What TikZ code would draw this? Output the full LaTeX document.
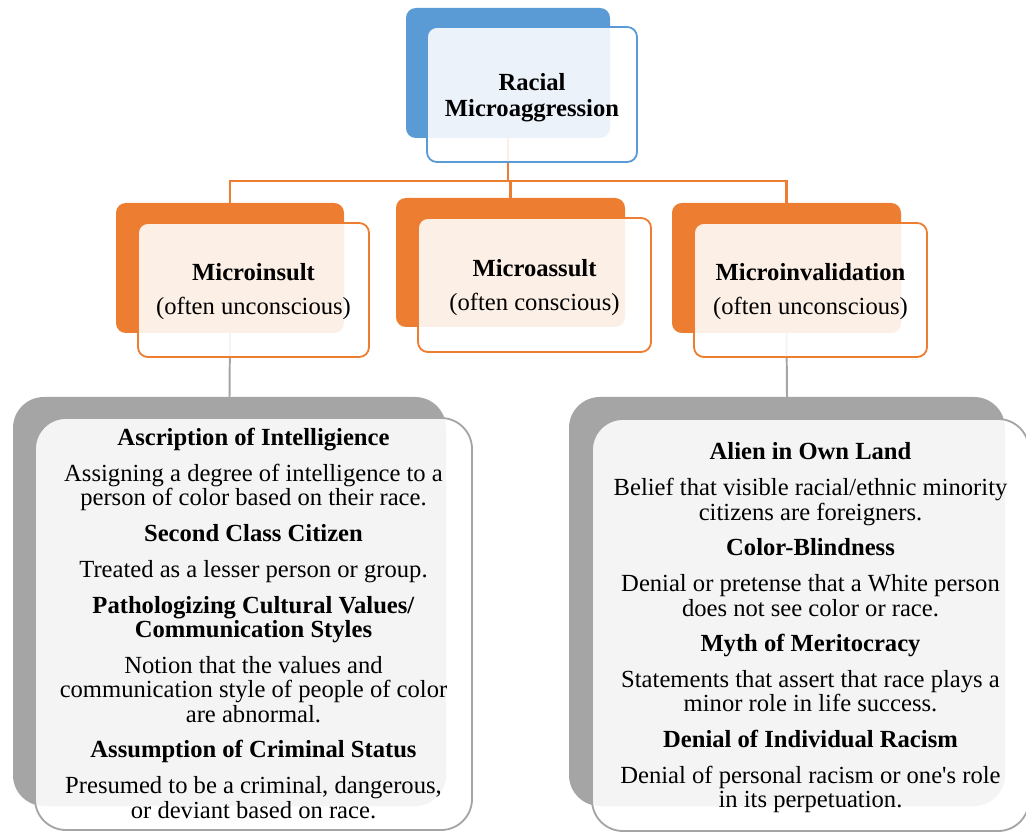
\documentclass[tikz,border=0pt]{standalone}
\usepackage{fontspec}
\setmainfont{Liberation Serif}
\usetikzlibrary{positioning}

\definecolor{accblue}{HTML}{5B9BD5}
\definecolor{accorange}{HTML}{ED7D31}
\definecolor{accgray}{HTML}{A5A5A5}

\newcommand{\boxfont}{\fontsize{17.5}{17.4}\selectfont}

\begin{document}
\begin{tikzpicture}[
    x=0.025cm, y=-0.025cm,
    % styles de boîtes
    size/.style 2 args = {minimum width=#1*0.025cm, minimum height=#2*0.025cm},
    back/.style   = {rectangle, inner sep=0pt, outer sep=0pt, rounded corners=7pt},
    front/.style  = {rectangle, inner sep=0pt, outer sep=0pt, rounded corners=7pt,
                     fill=white, fill opacity=0.88, line width=1.3pt},
    big/.style    = {rounded corners=22pt},
    txt/.style    = {align=center, inner sep=0pt, font=\boxfont},
    link/.style   = {line width=1.7pt, accorange},
    glink/.style  = {line width=1.4pt, accgray},
]
\useasboundingbox (0,0) rectangle (1026,832);

% ── Niveau 1 : Racial Microaggression ───────────────────────────────────────
\node[back, fill=accblue, size={204}{130}] (topb) at (508,73) {};

% ── Niveau 2 : les trois formes ─────────────────────────────────────────────
\node[back, fill=accorange, size={228}{130}] (insb) at (230,268) {};
\node[back, fill=accorange, size={229}{129}] (assb) at (510.5,262.5) {};
\node[back, fill=accorange, size={229}{130}] (invb) at (786.5,268) {};

% ── Niveau 3 : exemples ─────────────────────────────────────────────────────
\node[back, big, fill=accgray, size={433}{409}] (exinsb) at (229.5,601.5) {};
\node[back, big, fill=accgray, size={436}{409}] (exinvb) at (787,601.5) {};

% ── Connecteurs ─────────────────────────────────────────────────────────────
\draw[link] (topb.south) -- ++(0,43) coordinate (bus);
\draw[link] (bus) -| (insb.north);
\draw[link] (bus) -| (assb.north);
\draw[link] (bus) -| (invb.north);
\draw[glink] (insb.south) -- (exinsb.north);
\draw[glink] (invb.south) -- (exinvb.north);

% ── Boîtes de premier plan ──────────────────────────────────────────────────
\node[front, draw=accblue,   size={210}{135}] (top) at (532,94.5) {};
\node[front, draw=accorange, size={231}{134}] (ins) at (253.5,290) {};
\node[front, draw=accorange, size={233}{134}] (ass) at (534.5,285) {};
\node[front, draw=accorange, size={233}{134}] (inv) at (810.5,290) {};
\node[front, big, draw=accgray, size={437}{412}] (exins) at (253.5,624) {};
\node[front, big, draw=accgray, size={437}{412}] (exinv) at (810.5,625) {};

% ── Textes ──────────────────────────────────────────────────────────────────
\node[txt, font=\fontsize{17.5}{18.5}\selectfont] (toptxt) at (532,97.5)
    {\textbf{Racial}\\\textbf{Microaggression}};

\node[txt] (instxt) at (253.5,292) {\textbf{Microinsult}\\[6.8pt](often unconscious)};
\node[txt] (asstxt) at (534.5,287.5) {\textbf{Microassult}\\[6.8pt](often conscious)};
\node[txt] (invtxt) at (810.5,291.5) {\textbf{Microinvalidation}\\[6.8pt](often unconscious)};

\node[txt] (exinstxt) at (253.5,623.5)
    {\textbf{Ascription of Intelligience}\\[8pt]
     Assigning a degree of intelligence to a\\
     person of color based on their race.\\[8pt]
     \textbf{Second Class Citizen}\\[8pt]
     Treated as a lesser person or group.\\[8pt]
     \textbf{Pathologizing Cultural Values/}\\
     \textbf{Communication Styles}\\[8pt]
     Notion that the values and\\
     communication style of people of color\\
     are abnormal.\\[8pt]
     \textbf{Assumption of Criminal Status}\\[8pt]
     Presumed to be a criminal, dangerous,\\
     or deviant based on race.};

\node[txt] (exinvtxt) at (810.5,628)
    {\textbf{Alien in Own Land}\\[8pt]
     Belief that visible racial/ethnic minority\\
     citizens are foreigners.\\[8pt]
     \textbf{Color-Blindness}\\[8pt]
     Denial or pretense that a White person\\
     does not see color or race.\\[8pt]
     \textbf{Myth of Meritocracy}\\[8pt]
     Statements that assert that race plays a\\
     minor role in life success.\\[8pt]
     \textbf{Denial of Individual Racism}\\[8pt]
     Denial of personal racism or one\textquotesingle s role\\
     in its perpetuation.};

\end{tikzpicture}
\end{document}
